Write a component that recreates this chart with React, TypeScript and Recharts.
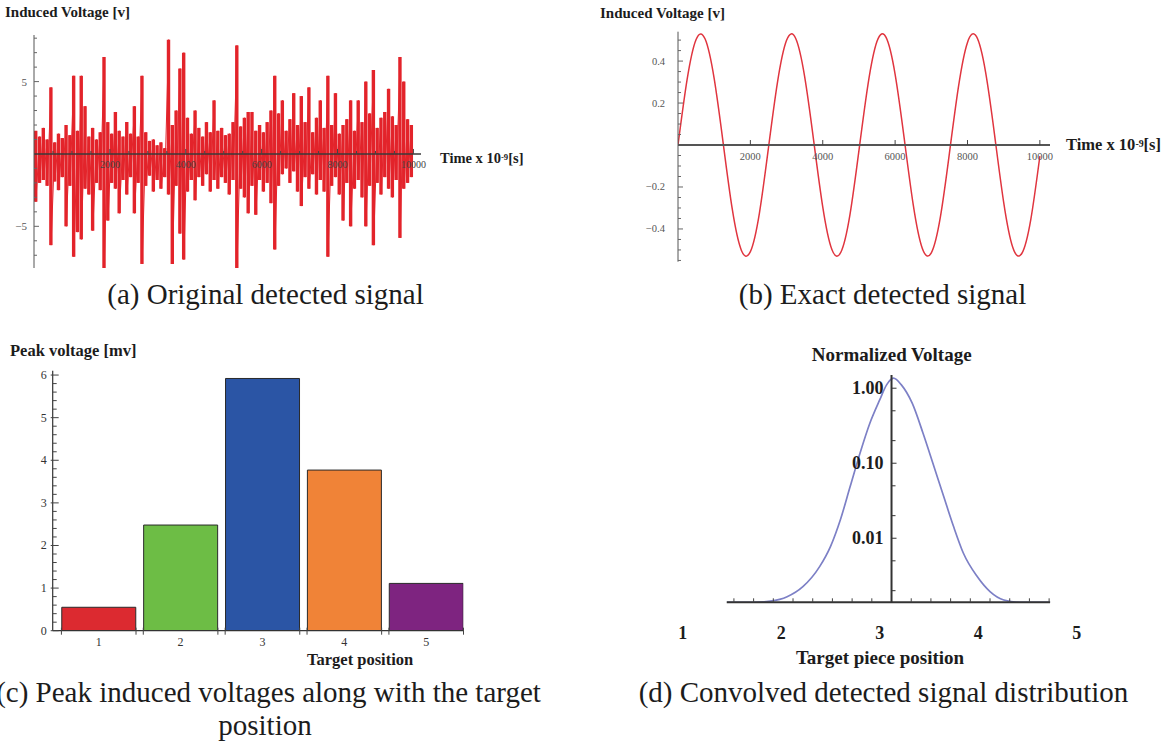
import React from 'react';
import { ComposedChart, Line, Bar, Cell, XAxis, YAxis, ReferenceLine, ReferenceDot } from 'recharts';

const SERIF = "'Liberation Serif', 'Times New Roman', Times, serif";
const INK = '#1c1c1c';

// ---------- (a) Original detected signal ----------
const noiseBinStep = 100;
const noiseHigh = [
  1.6, 1.2, 1.8, 1.0, 4.6, 0.8, 1.4, 1.1, 2.0, 1.3,
  5.4, 1.6, 5.4, 3.3, 1.2, 1.8, 1.0, 1.5, 6.7, 2.2,
  1.4, 2.9, 1.6, 1.2, 2.2, 1.4, 3.3, 1.2, 5.4, 1.5,
  0.9, 1.0, 0.6, 0.8, 0.4, 7.9, 2.0, 3.0, 5.9, 7.0,
  2.5, 1.4, 3.0, 1.8, 1.2, 2.2, 1.5, 3.7, 1.6, 1.8,
  1.3, 1.4, 2.2, 7.5, 1.9, 2.5, 2.9, 2.9, 1.6, 2.0,
  1.5, 2.2, 3.0, 5.4, 2.8, 3.7, 1.6, 2.4, 4.2, 2.0,
  4.0, 2.2, 4.6, 1.5, 2.5, 3.7, 1.8, 5.4, 2.0, 4.2,
  1.4, 2.0, 2.4, 3.7, 1.6, 3.7, 2.2, 5.0, 2.8, 5.8,
  1.8, 2.5, 2.9, 4.5, 2.6, 2.0, 6.7, 5.0, 2.4, 2.0,
];
const noiseLow = [
  -3.3, -2.0, -1.8, -2.2, -6.3, -1.9, -2.5, -1.6, -5.0, -2.2,
  -7.1, -5.4, -5.9, -2.4, -2.8, -5.3, -2.0, -2.5, -7.9, -4.6,
  -2.0, -2.4, -4.1, -1.8, -2.8, -1.6, -4.1, -2.0, -7.6, -2.2,
  -1.5, -2.6, -1.8, -2.4, -1.6, -2.8, -7.6, -2.2, -5.5, -7.3,
  -2.6, -1.8, -3.2, -1.6, -2.2, -1.4, -2.6, -1.8, -2.4, -1.6,
  -2.0, -2.8, -1.8, -7.9, -2.4, -3.0, -4.1, -2.2, -4.2, -1.8,
  -2.6, -2.0, -3.4, -6.6, -2.2, -1.4, -1.0, -2.0, -1.2, -2.6,
  -3.6, -1.6, -2.4, -1.4, -2.8, -1.8, -2.6, -7.1, -2.2, -1.6,
  -2.8, -4.6, -2.0, -5.0, -2.4, -1.8, -3.0, -5.0, -2.2, -6.3,
  -2.0, -2.8, -1.6, -2.4, -3.0, -1.8, -5.8, -2.4, -2.0, -1.6,
];
const aXTicks = [500, 1000, 1500, 2000, 2500, 3000, 3500, 4000, 4500, 5000, 5500, 6000, 6500, 7000, 7500, 8000, 8500, 9000, 9500, 10000];
const aXLabels = [2000, 4000, 6000, 8000, 10000];
const aYTicks = [-7, -6, -5, -4, -3, -2, -1, 1, 2, 3, 4, 5, 6, 7, 8];
const aYLabels = [-5, 5];

// each bin: the span of the signal inside it (low .. high)
const noiseBins = noiseHigh.map((h, i) => ({ t: i * noiseBinStep + noiseBinStep / 2, range: [noiseLow[i], h] }));
// trace running through every bin: up to its high, down to its low
const noiseTrace = noiseHigh.flatMap((h, i) => [
  { t: i * noiseBinStep + noiseBinStep / 2, v: h },
  { t: i * noiseBinStep + noiseBinStep / 2, v: noiseLow[i] },
]);

// ---------- (b) Exact detected signal ----------
const sineTime = [
  0, 250, 500, 750, 1000, 1250, 1500, 1750, 2000, 2250,
  2500, 2750, 3000, 3250, 3500, 3750, 4000, 4250, 4500, 4750,
  5000, 5250, 5500, 5750, 6000, 6250, 6500, 6750, 7000, 7250,
  7500, 7750, 8000, 8250, 8500, 8750, 9000, 9250, 9500, 9750,
  10000,
];
const sineVolt = [
  0, 0.310, 0.503, 0.505, 0.316, 0.007, -0.306, -0.501, -0.508, -0.324,
  -0.013, 0.300, 0.499, 0.509, 0.326, 0.020, -0.295, -0.497, -0.511, -0.334,
  -0.027, 0.288, 0.494, 0.513, 0.337, 0.033, -0.284, -0.492, -0.514, -0.344,
  -0.040, 0.277, 0.489, 0.516, 0.347, 0.046, -0.273, -0.487, -0.517, -0.354,
  -0.053,
];
const bXTicks = [2000, 4000, 6000, 8000, 10000];
const bYTicks = [-0.55, -0.5, -0.45, -0.4, -0.35, -0.3, -0.25, -0.2, -0.15, -0.1, -0.05, 0.05, 0.1, 0.15, 0.2, 0.25, 0.3, 0.35, 0.4, 0.45, 0.5];
const bYLabels = [-0.4, -0.2, 0.2, 0.4];
const sineData = sineTime.map((t, i) => ({ t, v: sineVolt[i] }));

// ---------- (c) Peak induced voltages ----------
const positions = [1, 2, 3, 4, 5];
const peakVoltages = [0.55, 2.48, 5.92, 3.77, 1.11];
const barColors = ['#dc2a30', '#6dbd45', '#2b55a5', '#f08337', '#7e2480'];
const cYTicks = [
  0, 0.2, 0.4, 0.6, 0.8, 1, 1.2, 1.4, 1.6, 1.8, 2, 2.2, 2.4, 2.6, 2.8, 3,
  3.2, 3.4, 3.6, 3.8, 4, 4.2, 4.4, 4.6, 4.8, 5, 5.2, 5.4, 5.6, 5.8, 6,
];
const barData = positions.map((p, i) => ({ pos: p, v: peakVoltages[i] }));

// ---------- (d) Convolved detected signal distribution ----------
const convX = [1.45, 1.72, 1.89, 2.06, 2.22, 2.39, 2.50, 2.60, 2.70, 2.80, 2.90, 3.00, 3.07, 3.14, 3.22, 3.33, 3.44, 3.54, 3.65, 3.75, 3.85, 3.99, 4.12, 4.26, 4.42, 4.73];
const convV = [0.0014, 0.0014, 0.00145, 0.00166, 0.00226, 0.00418, 0.00773, 0.0175, 0.0488, 0.136, 0.341, 0.698, 1.107, 1.36, 1.107, 0.631, 0.251, 0.100, 0.0359, 0.0143, 0.00631, 0.00308, 0.00194, 0.0015, 0.0014, 0.0014];
const dXLabels = [1, 2, 3, 4, 5];
const dXMinor = [1.52, 1.72, 1.92, 2.12, 2.32, 2.52, 2.72, 2.92, 3.32, 3.52, 3.72, 3.92, 4.12, 4.32, 4.52, 4.72];
const dYLabels = [1, 0.1, 0.01];
const dYLabelText = ['1.00', '0.10', '0.01'];
const dYMinor = [0.5, 0.2, 0.05, 0.02, 0.005, 0.002];
const dAxisX = 3.12;
const dXAxisSpan = [1.447, 4.73];
const dYDomain = [0.0014, 1.5];
const convData = convX.map((x, i) => ({ x, v: convV[i] }));

const fmtMinus = (v: number, digits = 0) => {
  const s = Math.abs(v).toFixed(digits);
  return v < 0 ? `\u2212${s}` : s;
};

// ---------- tick renderers ----------
const ATickY = (props: any) => {
  const { x, y, payload } = props;
  const v = payload.value;
  const major = aYLabels.includes(v);
  return (
    <g>
      <line x1={x} x2={x + (major ? 5 : 3)} y1={y} y2={y} stroke="#666" strokeWidth={1} />
      {major && (
        <text x={x - 7} y={y} textAnchor="end" dominantBaseline="central" fontSize={11} fill="#555" fontFamily={SERIF}>
          {fmtMinus(v)}
        </text>
      )}
    </g>
  );
};

const BTickY = (props: any) => {
  const { x, y, payload } = props;
  const v = payload.value;
  const major = bYLabels.includes(v);
  return (
    <g>
      <line x1={x} x2={x + (major ? 5 : 3)} y1={y} y2={y} stroke="#666" strokeWidth={1} />
      {major && (
        <text x={x - 13} y={y} textAnchor="end" dominantBaseline="central" fontSize={10.5} fill="#555" fontFamily={SERIF}>
          {fmtMinus(v, 1)}
        </text>
      )}
    </g>
  );
};

const CTickY = (props: any) => {
  const { x, y, payload } = props;
  const v = payload.value;
  const major = Number.isInteger(v);
  return (
    <g>
      <line x1={major ? x - 2 : x} x2={x + (major ? 6 : 4)} y1={y} y2={y} stroke="#444" strokeWidth={1} />
      {major && (
        <text x={x - 6} y={y} textAnchor="end" dominantBaseline="central" fontSize={12} fill="#333" fontFamily={SERIF}>
          {v}
        </text>
      )}
    </g>
  );
};

const CTickX = (props: any) => {
  const { x, y, payload } = props;
  const half = 37.3;
  return (
    <g>
      <line x1={x - half} x2={x - half} y1={y - 3} y2={y + 4} stroke="#444" strokeWidth={1} />
      <line x1={x + half} x2={x + half} y1={y - 3} y2={y + 4} stroke="#444" strokeWidth={1} />
      <text x={x} y={y + 11} textAnchor="middle" dominantBaseline="central" fontSize={12} fill="#333" fontFamily={SERIF}>
        {payload.value}
      </text>
    </g>
  );
};

const DTickX = (props: any) => {
  const { x, y, payload } = props;
  const v = payload.value;
  if (dXLabels.includes(v)) {
    return (
      <text x={x} y={y + 30.7} textAnchor="middle" dominantBaseline="central" fontSize={18} fontWeight="bold" fill={INK} fontFamily={SERIF}>
        {v}
      </text>
    );
  }
  return <line x1={x} x2={x} y1={y - 4} y2={y} stroke="#444" strokeWidth={1} />;
};

const Txt = (p: { left: number; top: number; size: number; bold?: boolean; center?: boolean; children: React.ReactNode }) => (
  <div
    style={{
      position: 'absolute',
      left: p.left,
      top: p.top,
      fontSize: p.size,
      lineHeight: `${p.size}px`,
      fontWeight: p.bold ? 'bold' : 'normal',
      fontFamily: SERIF,
      color: INK,
      whiteSpace: 'nowrap',
      transform: p.center ? 'translateX(-50%)' : undefined,
    }}
  >
    {p.children}
  </div>
);

const Sup = ({ children }: { children: React.ReactNode }) => (
  <sup style={{ fontSize: '0.6em', verticalAlign: 'top', position: 'relative', top: '-0.1em' }}>{children}</sup>
);

const NOISE_RED = '#e3242b';

export default function App() {
  return (
    <div style={{ position: 'absolute', left: 0, top: 0, width: 1165, height: 742, background: '#fff', overflow: 'hidden' }}>
      {/* (a) */}
      <div style={{ position: 'absolute', left: 0, top: 0 }}>
        <ComposedChart width={440} height={280} data={noiseBins} margin={{ top: 35, right: 19, bottom: 12, left: 0 }}>
          <XAxis
            type="number"
            dataKey="t"
            domain={[0, 10200]}
            ticks={aXTicks}
            interval={0}
            axisLine={false}
            tickLine={false}
            tick={false}
            height={0}
            allowDataOverflow
          />
          <YAxis
            type="number"
            domain={[-7.88, 8.22]}
            ticks={aYTicks}
            interval={0}
            width={34}
            tickSize={0}
            tickMargin={0}
            tickLine={false}
            axisLine={{ stroke: '#555', strokeWidth: 1 }}
            tick={<ATickY />}
            allowDataOverflow
          />
          <Bar dataKey="range" barSize={4} fill={NOISE_RED} isAnimationActive={false} />
          <Line data={noiseTrace} dataKey="v" type="linear" stroke={NOISE_RED} strokeWidth={1} dot={false} isAnimationActive={false} />
          <ReferenceLine y={0} stroke="#3a3a3a" strokeWidth={1.6} />
          {aXTicks.map((t) => (
            <ReferenceDot
              key={t}
              x={t}
              y={0}
              r={0}
              shape={(p: any) => {
                const major = aXLabels.includes(t);
                return (
                  <g>
                    <line x1={p.cx} x2={p.cx} y1={p.cy} y2={p.cy - (major ? 5 : 3)} stroke="#444" strokeWidth={1} />
                    {major && (
                      <text x={p.cx} y={p.cy + 11} textAnchor="middle" dominantBaseline="central" fontSize={10} fill="#444" fontFamily={SERIF}>
                        {t}
                      </text>
                    )}
                  </g>
                );
              }}
            />
          ))}
        </ComposedChart>
      </div>

      {/* (b) */}
      <div style={{ position: 'absolute', left: 600, top: 0 }}>
        <ComposedChart width={480} height={280} data={sineData} margin={{ top: 31.7, right: 30, bottom: 18.3, left: 0 }}>
          <XAxis type="number" dataKey="t" domain={[0, 10280]} hide allowDataOverflow />
          <YAxis
            type="number"
            domain={[-0.556, 0.54]}
            ticks={bYTicks}
            interval={0}
            width={78}
            tickSize={0}
            tickMargin={0}
            tickLine={false}
            axisLine={{ stroke: '#555', strokeWidth: 1 }}
            tick={<BTickY />}
            allowDataOverflow
          />
          <Line dataKey="v" type="natural" stroke="#e0353f" strokeWidth={1.5} dot={false} isAnimationActive={false} />
          <ReferenceLine y={0} stroke="#555" strokeWidth={2} />
          {bXTicks.map((t) => (
            <ReferenceDot
              key={t}
              x={t}
              y={0}
              r={0}
              shape={(p: any) => (
                <g>
                  <line x1={p.cx} x2={p.cx} y1={p.cy} y2={p.cy - 5} stroke="#444" strokeWidth={1} />
                  <text x={p.cx} y={p.cy + 11} textAnchor="middle" dominantBaseline="central" fontSize={10.5} fill="#555" fontFamily={SERIF}>
                    {t}
                  </text>
                </g>
              )}
            />
          ))}
        </ComposedChart>
      </div>

      {/* (c) */}
      <div style={{ position: 'absolute', left: 0, top: 340 }}>
        <ComposedChart width={480} height={330} data={barData} margin={{ top: 30.8, right: 16.7, bottom: 0, left: 0 }}>
          <XAxis
            type="number"
            dataKey="pos"
            domain={[0.438, 5.453]}
            ticks={positions}
            interval={0}
            height={39.3}
            tickSize={0}
            tickMargin={0}
            tickLine={false}
            axisLine={{ stroke: '#333', strokeWidth: 1.2 }}
            tick={<CTickX />}
            allowDataOverflow
          />
          <YAxis
            type="number"
            domain={[0, 6.1]}
            ticks={cYTicks}
            interval={0}
            width={52.7}
            tickSize={0}
            tickMargin={0}
            tickLine={false}
            axisLine={{ stroke: '#333', strokeWidth: 1.2 }}
            tick={<CTickY />}
            allowDataOverflow
          />
          <Bar dataKey="v" barSize={74} stroke="#2a2a2a" strokeWidth={1} isAnimationActive={false}>
            {barData.map((d, i) => (
              <Cell key={d.pos} fill={barColors[i]} />
            ))}
          </Bar>
        </ComposedChart>
      </div>

      {/* (d) */}
      <div style={{ position: 'absolute', left: 660, top: 340 }}>
        <ComposedChart width={440} height={330} data={convData} margin={{ top: 35, right: 23.3, bottom: 0, left: 22.7 }}>
          <XAxis
            type="number"
            dataKey="x"
            domain={[1, 5]}
            ticks={[...dXLabels, ...dXMinor]}
            interval={0}
            height={67.7}
            tickSize={0}
            tickMargin={0}
            tickLine={false}
            axisLine={false}
            tick={<DTickX />}
            allowDataOverflow
          />
          <YAxis type="number" scale="log" domain={dYDomain} hide allowDataOverflow />
          <Line dataKey="v" type="monotone" stroke="#7d80c6" strokeWidth={1.7} dot={false} isAnimationActive={false} />
          <ReferenceLine
            segment={[
              { x: dXAxisSpan[0], y: dYDomain[0] },
              { x: dXAxisSpan[1], y: dYDomain[0] },
            ]}
            stroke="#333"
            strokeWidth={2}
            ifOverflow="visible"
          />
          <ReferenceLine x={dAxisX} stroke="#333" strokeWidth={2} />
          {dYLabels.map((v, i) => (
            <ReferenceDot
              key={v}
              x={dAxisX}
              y={v}
              r={0}
              shape={(p: any) => (
                <g>
                  <line x1={p.cx} x2={p.cx + 5} y1={p.cy} y2={p.cy} stroke="#333" strokeWidth={1} />
                  <text x={p.cx - 8} y={p.cy} textAnchor="end" dominantBaseline="central" fontSize={18} fontWeight="bold" fill={INK} fontFamily={SERIF}>
                    {dYLabelText[i]}
                  </text>
                </g>
              )}
            />
          ))}
          {dYMinor.map((v) => (
            <ReferenceDot
              key={v}
              x={dAxisX}
              y={v}
              r={0}
              shape={(p: any) => <line x1={p.cx} x2={p.cx + 4} y1={p.cy} y2={p.cy} stroke="#333" strokeWidth={1} />}
            />
          ))}
        </ComposedChart>
      </div>

      {/* axis titles */}
      <Txt left={5} top={5} size={15} bold>Induced Voltage [v]</Txt>
      <Txt left={440} top={150.5} size={14.5} bold>
        Time x 10<Sup>-9</Sup>[s]
      </Txt>
      <Txt left={600} top={6} size={15} bold>Induced Voltage [v]</Txt>
      <Txt left={1066} top={136.5} size={16.5} bold>
        Time x 10<Sup>-9</Sup>[s]
      </Txt>
      <Txt left={10} top={343} size={16.5} bold>Peak voltage [mv]</Txt>
      <Txt left={307} top={652} size={16.5} bold>Target position</Txt>
      <Txt left={891.7} top={345} size={19} bold center>Normalized Voltage</Txt>
      <Txt left={880} top={648} size={19} bold center>Target piece position</Txt>

      {/* captions */}
      <Txt left={265.5} top={280} size={29} center>(a) Original detected signal</Txt>
      <Txt left={882.5} top={280} size={29} center>(b) Exact detected signal</Txt>
      <Txt left={268.5} top={678} size={29} center>(c) Peak induced voltages along with the target</Txt>
      <Txt left={265} top={711} size={29} center>position</Txt>
      <Txt left={883.5} top={678} size={29} center>(d) Convolved detected signal distribution</Txt>
    </div>
  );
}
